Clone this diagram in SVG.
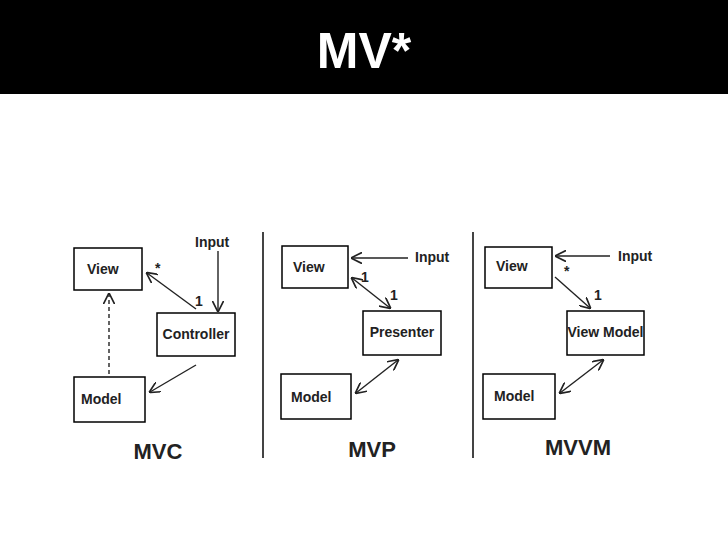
<svg xmlns="http://www.w3.org/2000/svg" width="728" height="546" viewBox="0 0 728 546">
<style>
.b{fill:#fff;stroke:#000;stroke-width:1.5}
.t{font-family:"Liberation Sans",Arial,sans-serif;font-weight:bold;fill:#222;font-size:14px}
.h{font-family:"Liberation Sans",Arial,sans-serif;font-weight:bold;fill:#222;font-size:22px;text-anchor:middle}
.l{stroke:#222;stroke-width:1.4;fill:none}
</style>
<defs>
<marker id="a" viewBox="0 0 10 10" refX="9" refY="5" markerWidth="8" markerHeight="8" orient="auto-start-reverse"><path d="M0,0 L10,5 L0,10" fill="none" stroke="#222" stroke-width="1.5"/></marker>
</defs>
<rect width="728" height="546" fill="#fff"/>
<rect width="728" height="94" fill="#000"/>
<text x="364" y="68" font-family="Liberation Sans,Arial,sans-serif" font-weight="bold" font-size="50" fill="#fff" text-anchor="middle">MV*</text>
<g id="dividers"><line x1="263" y1="232" x2="263" y2="458" stroke="#444" stroke-width="2"/><line x1="473" y1="232" x2="473" y2="458" stroke="#444" stroke-width="2"/></g>
<g id="mvc-view"><rect class="b" x="74" y="248" width="68" height="42"/><text class="t" x="87" y="274">View</text></g>
<g id="mvc-controller"><rect class="b" x="157" y="313" width="78" height="43"/><text class="t" x="196" y="339" text-anchor="middle" font-size="13">Controller</text></g>
<g id="mvc-model"><rect class="b" x="74" y="377" width="71" height="45"/><text class="t" x="81" y="404">Model</text></g>
<g id="mvp-view"><rect class="b" x="282" y="246" width="66" height="42"/><text class="t" x="293" y="272">View</text></g>
<g id="mvp-presenter"><rect class="b" x="363" y="311" width="78" height="44"/><text class="t" x="402" y="337" text-anchor="middle" font-size="13">Presenter</text></g>
<g id="mvp-model"><rect class="b" x="281" y="374" width="70" height="45"/><text class="t" x="291" y="402">Model</text></g>
<g id="mvvm-view"><rect class="b" x="485" y="247" width="67" height="41"/><text class="t" x="496" y="271">View</text></g>
<g id="mvvm-viewmodel"><rect class="b" x="567" y="311" width="77" height="44"/><text class="t" x="605.5" y="337" text-anchor="middle" font-size="12">View Model</text></g>
<g id="mvvm-model"><rect class="b" x="483" y="374" width="72" height="45"/><text class="t" x="494" y="401">Model</text></g>
<g id="labels">
<text class="t" x="195" y="247">Input</text>
<text class="t" x="155" y="273">*</text>
<text class="t" x="195" y="306">1</text>
<text class="t" x="415" y="262">Input</text>
<text class="t" x="361" y="282">1</text>
<text class="t" x="390" y="300">1</text>
<text class="t" x="618" y="261">Input</text>
<text class="t" x="564" y="276">*</text>
<text class="t" x="594" y="300">1</text>
<text class="h" x="158" y="459">MVC</text>
<text class="h" x="372" y="457">MVP</text>
<text class="h" x="578" y="455">MVVM</text>
</g>
<g id="connectors">
<line class="l" x1="218" y1="251" x2="218" y2="311" marker-end="url(#a)"/>
<line class="l" x1="196" y1="309" x2="147" y2="273" marker-end="url(#a)"/>
<line class="l" x1="109" y1="374" x2="109" y2="294" stroke-dasharray="4,3" marker-end="url(#a)"/>
<line class="l" x1="196" y1="365" x2="150" y2="392" marker-end="url(#a)"/>
<line class="l" x1="408" y1="258" x2="352" y2="258" marker-end="url(#a)"/>
<line class="l" x1="352" y1="278" x2="390" y2="308" marker-start="url(#a)" marker-end="url(#a)"/>
<line class="l" x1="398" y1="360" x2="356" y2="393" marker-start="url(#a)" marker-end="url(#a)"/>
<line class="l" x1="610" y1="256" x2="556" y2="256" marker-end="url(#a)"/>
<line class="l" x1="555" y1="277" x2="590" y2="308" marker-end="url(#a)"/>
<line class="l" x1="603" y1="360" x2="560" y2="393" marker-start="url(#a)" marker-end="url(#a)"/>
</g>
</svg>
